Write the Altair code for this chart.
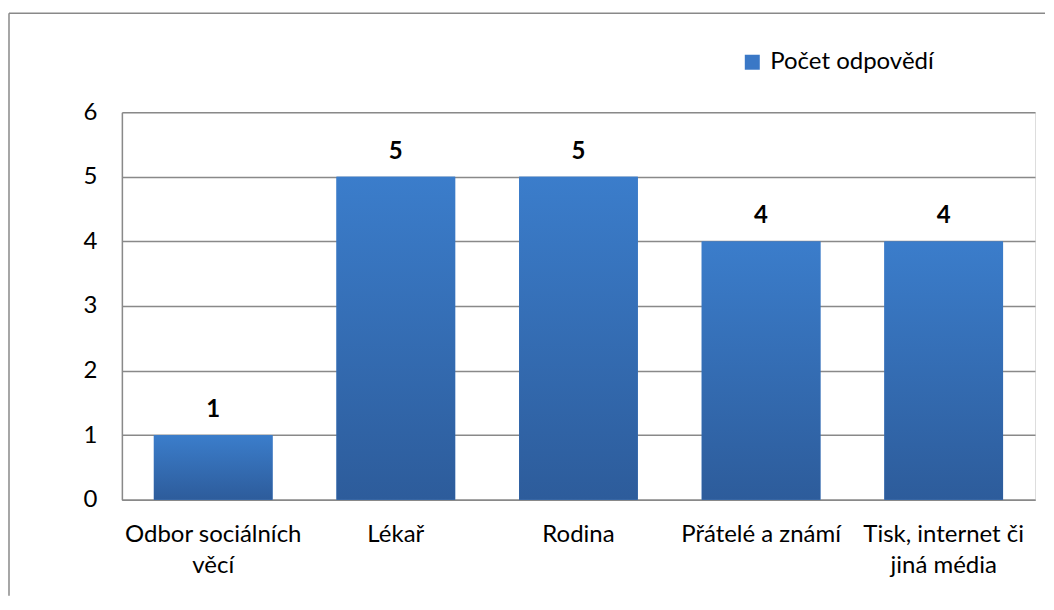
import json
import altair as alt
import pandas as pd

categories = ["Odbor sociálních věcí", "Lékař", "Rodina", "Přátelé a známí", "Tisk, internet či jiná média"]
values = [1, 5, 5, 4, 4]
label_lines = [["Odbor sociálních", "věcí"], ["Lékař"], ["Rodina"], ["Přátelé a známí"], ["Tisk, internet či", "jiná média"]]
series_name = "Počet odpovědí"
y_ticks = [0, 1, 2, 3, 4, 5, 6]

df = pd.DataFrame({"kategorie": categories, "pocet": values, "serie": [series_name] * len(values)})

W, H = 914, 388
FONT = "Lato"
FS = 24
GRID = "#898989"

label_expr = ""
for cat, lines in zip(categories, label_lines):
    label_expr += f"datum.label == {json.dumps(cat, ensure_ascii=False)} ? {json.dumps(lines, ensure_ascii=False)} : "
label_expr += "datum.label"

x_enc = alt.X(
    "kategorie:N",
    sort=categories,
    scale=alt.Scale(paddingInner=0.35, paddingOuter=0.175),
    axis=alt.Axis(
        title=None, labelAngle=0, labelExpr=label_expr, labelFontSize=FS, labelFont=FONT,
        labelColor="black", labelPadding=23, labelBaseline="top", labelLineHeight=31,
        ticks=False, domainColor=GRID, domainWidth=1.5, labelLimit=400,
    ),
)
y_enc = alt.Y(
    "pocet:Q",
    scale=alt.Scale(domain=[0, 6]),
    axis=alt.Axis(
        values=y_ticks, format="d", title=None, grid=True, gridColor=GRID, gridWidth=1.5,
        ticks=False, domainColor=GRID, domainWidth=1.5, labelPadding=25, labelFontSize=FS,
        labelFont=FONT, labelColor="black",
    ),
)

base = alt.Chart(df)

bars_legend = base.mark_bar().encode(
    x=x_enc,
    y=y_enc,
    fill=alt.Fill(
        "serie:N",
        scale=alt.Scale(range=["#3a78c6"]),
        legend=alt.Legend(
            title=None, orient="none", legendX=619, legendY=-62, symbolType="square",
            symbolSize=225, labelFontSize=FS, labelFont=FONT, labelColor="black",
            symbolStrokeWidth=0, labelOffset=6, labelLimit=400,
        ),
    ),
)

gradient = {
    "gradient": "linear", "x1": 0, "y1": 0, "x2": 0, "y2": 1,
    "stops": [{"offset": 0, "color": "#3b7dcb"}, {"offset": 1, "color": "#2d5c9b"}],
}
bars = base.mark_bar(color=gradient).encode(x=alt.X("kategorie:N", sort=categories), y="pocet:Q")

labels = base.mark_text(
    fontWeight="bold", fontSize=FS, font=FONT, color="black", baseline="alphabetic", dy=-18
).encode(x=alt.X("kategorie:N", sort=categories), y="pocet:Q", text="pocet:Q")

one = pd.DataFrame({"f": [0]})
frame_top = alt.Chart(one).mark_rule(stroke=GRID, strokeWidth=1.5).encode(
    x=alt.value(-113), x2=alt.value(W + 10), y=alt.value(-99)
)
frame_left = alt.Chart(one).mark_rule(stroke=GRID, strokeWidth=1.5).encode(
    x=alt.value(-113), y=alt.value(-99), y2=alt.value(H + 96)
)

chart = alt.layer(frame_top, frame_left, bars_legend, bars, labels).properties(
    width=W, height=H, padding={"left": 0, "top": 4, "right": 0, "bottom": 0}
).configure_view(stroke="transparent").configure(background="white")

chart.save("out.html", embed_options={"renderer": "svg", "actions": False})
